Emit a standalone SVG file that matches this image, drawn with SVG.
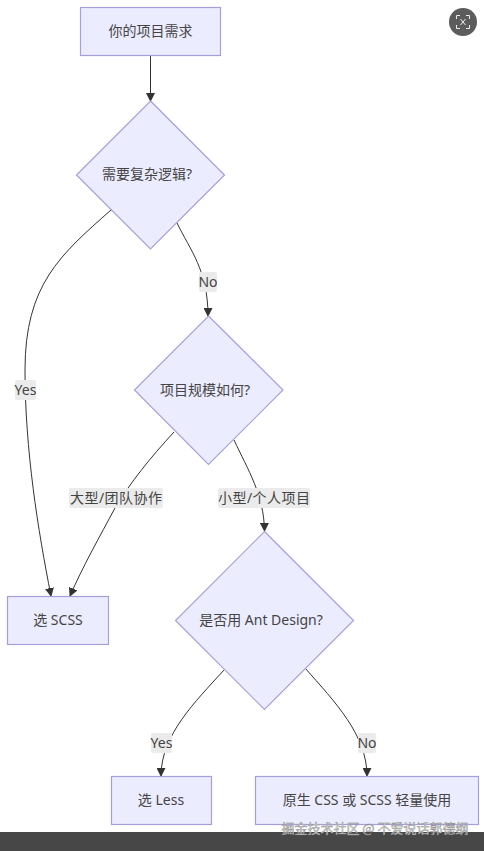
<svg xmlns="http://www.w3.org/2000/svg" width="484" height="851" viewBox="0 0 484 851">
<style>
.n{fill:#ececff;stroke:#a79fdc;stroke-width:1.2}
.t{font-family:"Noto Sans","Noto Sans CJK SC",sans-serif;font-size:14px;fill:#444;text-anchor:middle;dominant-baseline:central}
.e{fill:none;stroke:#333;stroke-width:1}
.lb{fill:#ebebeb}
</style>
<defs><marker id="a" markerWidth="9" markerHeight="9" refX="8" refY="4.500" orient="auto" markerUnits="userSpaceOnUse"><path d="M0 0L9 4.500L0 9z" fill="#333"/></marker></defs>
<rect width="484" height="851" fill="#fff"/>
<g id="connectors">
<path class="e" marker-end="url(#a)" d="M150.500 55V101"/>
<path class="e" marker-end="url(#a)" d="M111 210C60 255 25 285 25 370C25 450 38 530 51 596"/>
<path class="e" marker-end="url(#a)" d="M177 223C190 250 208 270 208 316"/>
<path class="e" marker-end="url(#a)" d="M174 432C150 458 130 483 115 508C100 536 82 568 70 596"/>
<path class="e" marker-end="url(#a)" d="M234 440C248 470 264 495 264.500 531"/>
<path class="e" marker-end="url(#a)" d="M224 670C195 702 161 735 161 776"/>
<path class="e" marker-end="url(#a)" d="M305 668C335 702 367 735 367 776"/>
</g>
<g id="edge-labels">
<rect class="lb" x="15" y="380" width="21" height="20" rx="2"/><text class="t" x="25.500" y="389.500">Yes</text>
<rect class="lb" x="199" y="272" width="18" height="20" rx="2"/><text class="t" x="208" y="281.500">No</text>
<rect class="lb" x="69" y="488" width="94" height="20" rx="2"/><text class="t" x="116" y="497" textLength="92">大型/团队协作</text>
<rect class="lb" x="218" y="488" width="92" height="20" rx="2"/><text class="t" x="264" y="497" textLength="92">小型/个人项目</text>
<rect class="lb" x="151" y="733" width="21" height="20" rx="2"/><text class="t" x="161.500" y="742">Yes</text>
<rect class="lb" x="358" y="733" width="18" height="20" rx="2"/><text class="t" x="367" y="742">No</text>
</g>
<g id="start"><rect class="n" x="80.500" y="7.500" width="140" height="48"/><text class="t" x="150.500" y="30">你的项目需求</text></g>
<g id="d1"><path class="n" d="M150.500 101L224.500 175L150.500 249L76.500 175Z"/><text class="t" x="147" y="173">需要复杂逻辑?</text></g>
<g id="d2"><path class="n" d="M208.500 316L283 390L208.500 464.500L134.500 390Z"/><text class="t" x="205" y="389">项目规模如何?</text></g>
<g id="d3"><path class="n" d="M264.500 531.500L353.500 620.500L264.500 709.500L175.500 620.500Z"/><text class="t" x="261" y="619">是否用 Ant Design?</text></g>
<g id="scss"><rect class="n" x="7.500" y="596.500" width="101" height="48"/><text class="t" x="58" y="619">选 SCSS</text></g>
<g id="less"><rect class="n" x="111.500" y="776.500" width="100" height="48"/><text class="t" x="161" y="799">选 Less</text></g>
<g id="native"><rect class="n" x="255.500" y="776.500" width="223" height="48"/><text class="t" x="367" y="799">原生 CSS 或 SCSS 轻量使用</text></g>
<rect x="0" y="832" width="484" height="19" fill="#474747"/>
<text x="375" y="833" font-family="'Noto Sans CJK SC',sans-serif" font-size="13" fill="#ddd" stroke="#888" stroke-width=".4" text-anchor="middle">掘金技术社区 @ 不爱说话郭德纲</text>
<g id="zoom-icon">
<circle cx="463" cy="22" r="14" fill="#5c5c5c"/>
<path d="M456.500 19V15.500H460M466 15.500H469.500V19M469.500 25V28.500H466M460 28.500H456.500V25M460.500 19L465.500 25M465.500 19L460.500 25" fill="none" stroke="#eee" stroke-width="1"/>
</g>
</svg>
